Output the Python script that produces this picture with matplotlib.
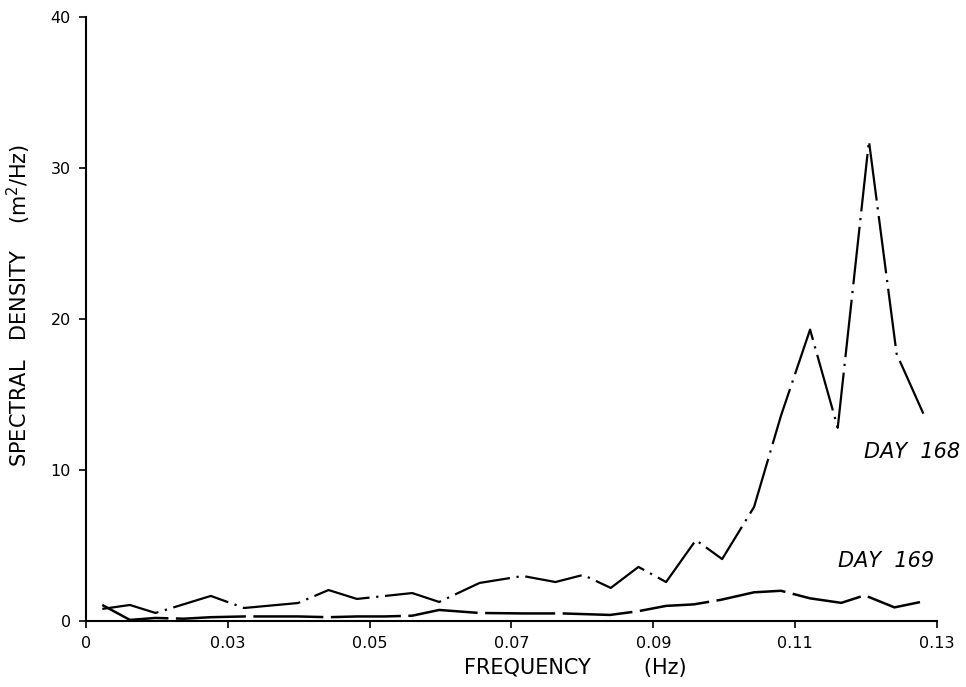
import numpy as np
import matplotlib
matplotlib.use("Agg")
import matplotlib.pyplot as plt

# frequency (Hz) and spectral density (m^2/Hz)
freq_168 = [0.0123, 0.0162, 0.0198, 0.0276, 0.0323, 0.0399, 0.0442, 0.0482,
            0.0560, 0.0598, 0.0655, 0.0716, 0.0762, 0.0801, 0.0840, 0.0879,
            0.0918, 0.0960, 0.0997, 0.1042, 0.1080, 0.1121, 0.1160, 0.1204,
            0.1243, 0.1282]
dens_168 = [0.8, 1.06, 0.53, 1.66, 0.86, 1.19, 2.05, 1.46,
            1.85, 1.26, 2.52, 2.98, 2.58, 3.05, 2.19, 3.58,
            2.58, 5.36, 4.1, 7.55, 13.6, 19.3, 12.8, 31.8,
            17.7, 13.6]

freq_169 = [0.0123, 0.0162, 0.0198, 0.0238, 0.0276, 0.0323, 0.0361, 0.0399,
            0.0442, 0.0482, 0.0521, 0.0560, 0.0598, 0.0655, 0.0716, 0.0772,
            0.0839, 0.0879, 0.0918, 0.0957, 0.0995, 0.1042, 0.1080, 0.1121,
            0.1165, 0.1198, 0.1240, 0.1276]
dens_169 = [1.06, 0.07, 0.2, 0.15, 0.25, 0.3, 0.3, 0.3,
            0.25, 0.3, 0.3, 0.35, 0.73, 0.53, 0.5, 0.5,
            0.4, 0.65, 1.0, 1.1, 1.4, 1.9, 2.0, 1.5,
            1.2, 1.7, 0.9, 1.25]

x_ticks = [0.01, 0.03, 0.05, 0.07, 0.09, 0.11, 0.13]
x_tick_labels = ["0", "0.03", "0.05", "0.07", "0.09", "0.11", "0.13"]
y_ticks = [0, 10, 20, 30, 40]

plt.rcParams["font.family"] = ["DejaVu Sans"]

fig = plt.figure(figsize=(9.66, 6.87), dpi=100)
ax = fig.add_axes([0.089, 0.0961, 0.881, 0.879])

ax.plot(freq_168, dens_168, color="black", linewidth=1.6,
        linestyle=(0, (26, 3, 1, 3)))
ax.plot(freq_169, dens_169, color="black", linewidth=1.8,
        linestyle=(0, (28, 3)))

ax.text(0.1265, 11.2, "DAY  168", fontsize=15, style="italic",
        ha="center", va="center")
ax.text(0.1160, 4.0, "DAY  169", fontsize=15, style="italic",
        ha="left", va="center")

ax.set_xlim(0.01, 0.13)
ax.set_ylim(0, 40)
ax.set_xticks(x_ticks)
ax.set_xticklabels(x_tick_labels)
ax.set_yticks(y_ticks)
ax.tick_params(axis="both", direction="out", length=5, width=1.2,
               labelsize=11.5, pad=6)

for side in ["top", "right"]:
    ax.spines[side].set_visible(False)
for side in ["left", "bottom"]:
    ax.spines[side].set_linewidth(1.5)

ax.set_xlabel("FREQUENCY        (Hz)", fontsize=15)
ax.set_ylabel(r"SPECTRAL   DENSITY    (m$^2$/Hz)", fontsize=15)
ax.xaxis.set_label_coords(0.575, -0.062)
ax.yaxis.set_label_coords(-0.062, 0.523)

fig.savefig("out.png", dpi=100)
